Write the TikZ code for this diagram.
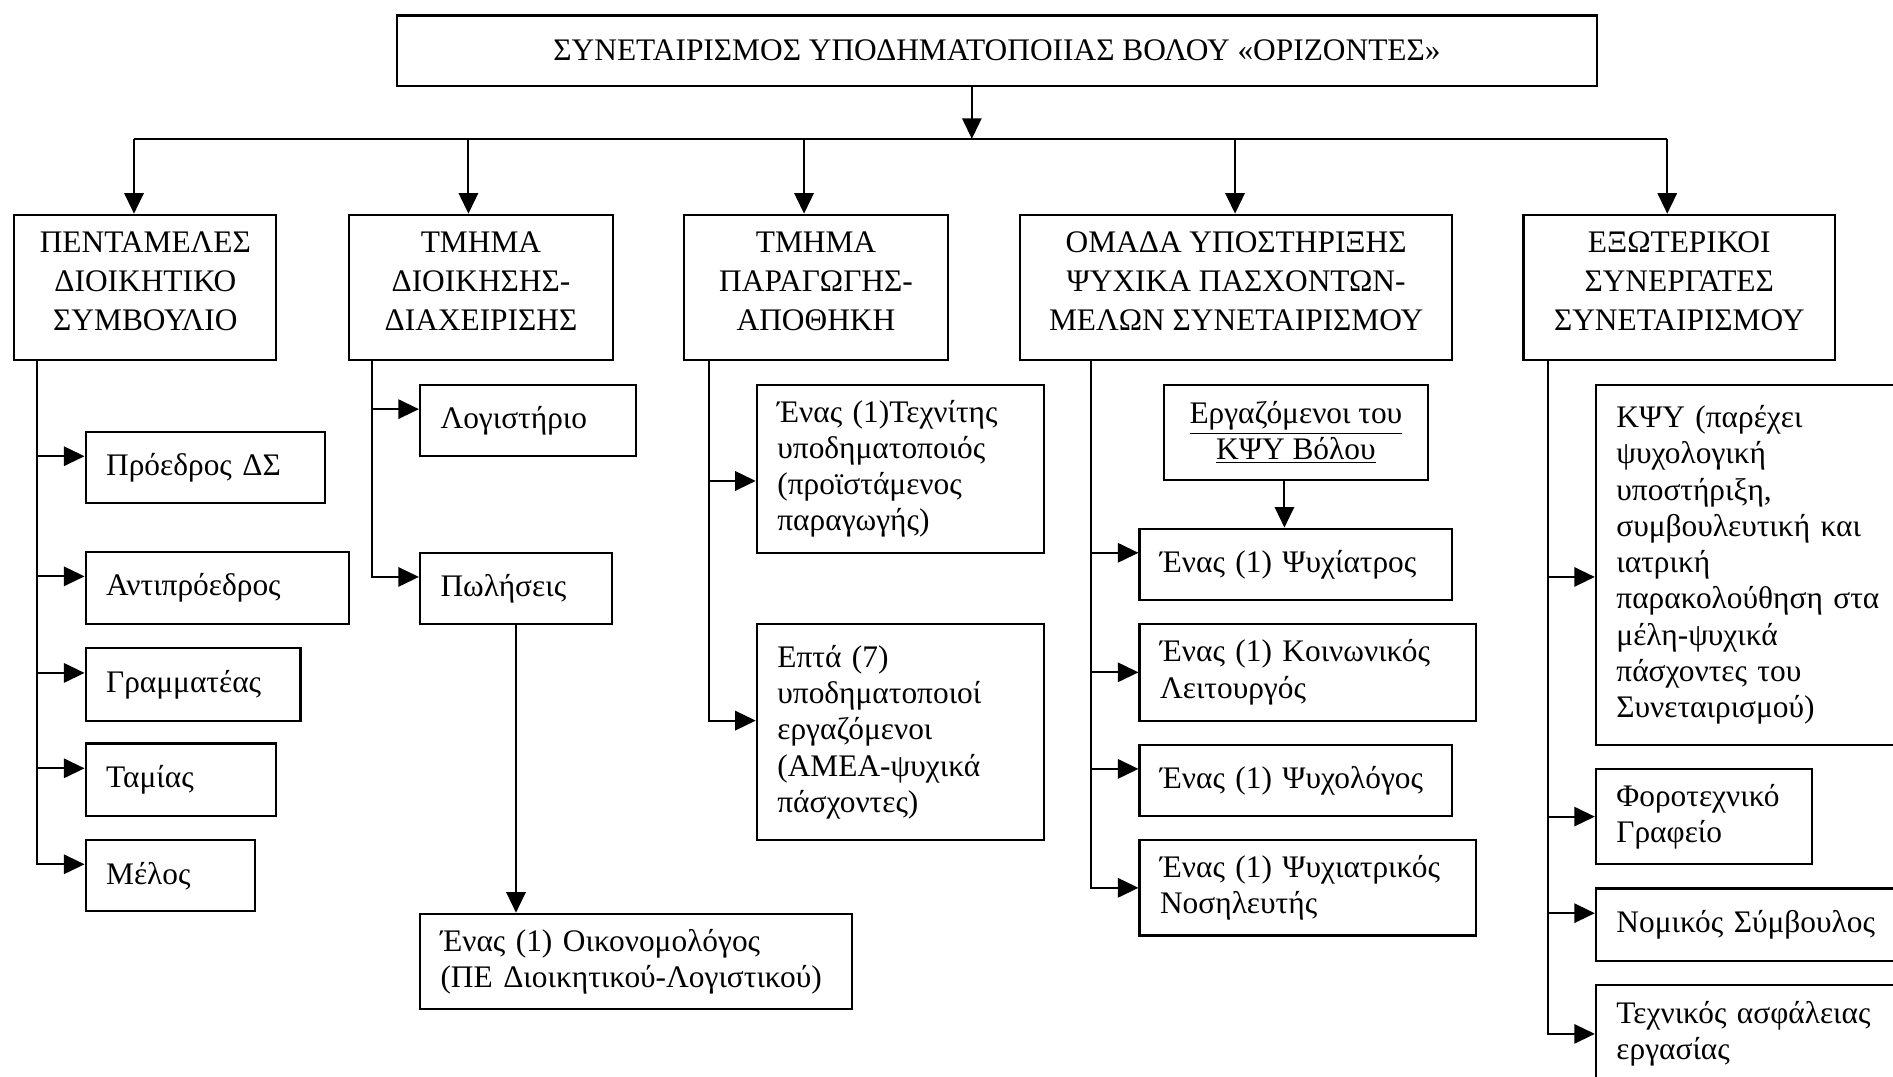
\documentclass[tikz,border=0pt]{standalone}
\usepackage{fontspec}
\setmainfont{Liberation Serif}
\usetikzlibrary{arrows.meta}
\begin{document}
\begin{tikzpicture}[x=0.5pt,y=-0.5pt,
  bx/.style={draw, line width=0.9pt, anchor=north west, inner ysep=0pt},
  cbox/.style={bx, align=center, inner xsep=0pt, font=\fontsize{13}{16}\selectfont},
  lbox/.style={bx, align=left, inner xsep=8.5pt, font=\fontsize{13}{15}\selectfont},
  ln/.style={line width=0.8pt},
  arr/.style={ln, -{Triangle[length=8.5pt,width=8pt]}},
  up/.style={yshift=4.75pt},
  dn/.style={yshift=-5pt}]
\useasboundingbox (0,0) rectangle (1568,892);
\clip (0,0) rectangle (1568,892);

% top
\node[cbox, minimum width=497pt, minimum height=29pt] (top) at (328,12)
  {ΣΥΝΕΤΑΙΡΙΣΜΟΣ ΥΠΟΔΗΜΑΤΟΠΟΙΙΑΣ ΒΟΛΟΥ «ΟΡΙΖΟΝΤΕΣ»};

% level boxes
\node[cbox, minimum width=108.5pt, minimum height=60pt] (L1) at (11,177)
  {ΠΕΝΤΑΜΕΛΕΣ\\ΔΙΟΙΚΗΤΙΚΟ\\ΣΥΜΒΟΥΛΙΟ\\[-11pt]};
\node[cbox, minimum width=109.5pt, minimum height=60pt] (L2) at (288,177)
  {ΤΜΗΜΑ\\ΔΙΟΙΚΗΣΗΣ-\\ΔΙΑΧΕΙΡΙΣΗΣ\\[-11pt]};
\node[cbox, minimum width=109pt, minimum height=60pt] (L3) at (566,177)
  {ΤΜΗΜΑ\\ΠΑΡΑΓΩΓΗΣ-\\ΑΠΟΘΗΚΗ\\[-11pt]};
\node[cbox, minimum width=179pt, minimum height=60pt] (L4) at (844,177)
  {ΟΜΑΔΑ ΥΠΟΣΤΗΡΙΞΗΣ\\ΨΥΧΙΚΑ ΠΑΣΧΟΝΤΩΝ-\\ΜΕΛΩΝ ΣΥΝΕΤΑΙΡΙΣΜΟΥ\\[-11pt]};
\node[cbox, minimum width=129pt, minimum height=60pt] (L5) at (1261,177)
  {ΕΞΩΤΕΡΙΚΟΙ\\ΣΥΝΕΡΓΑΤΕΣ\\ΣΥΝΕΤΑΙΡΙΣΜΟΥ\\[-11pt]};

% bus
\coordinate (b0) at (805,115);
\coordinate (b1) at (111,115);
\coordinate (b2) at (388,115);
\coordinate (b3) at (666,115);
\coordinate (b4) at (1023,115);
\coordinate (b5) at (1381,115);
\draw[arr] (top.south -| b0) -- (b0);
\draw[ln] (b1) -- (b5);
\foreach \i in {1,...,5} \draw[arr] (b\i) -- (b\i |- L\i.north);

% trunks
\coordinate (c1) at (31,0);
\coordinate (c2) at (308,0);
\coordinate (c3) at (587,0);
\coordinate (c4) at (904,0);
\coordinate (c5) at (1282,0);

% column 1
\node[lbox, text width=82pt, minimum height=29.5pt] (p1) at (70,357) {Πρόεδρος ΔΣ};
\node[lbox, text width=92pt, minimum height=30pt] (p2) at (70,456) {Αντιπρόεδρος};
\node[lbox, text width=72pt, minimum height=30pt] (p3) at (70,536) {Γραμματέας};
\node[lbox, text width=62pt, minimum height=30pt] (p4) at (70,615) {Ταμίας};
\node[lbox, text width=53pt, minimum height=29.5pt] (p5) at (70,695) {Μέλος};
\foreach \n in {p1,p2,p3,p4,p5} \draw[arr] (L1.south -| c1) |- ([up]\n.west);

% column 2
\node[lbox, text width=72.5pt, minimum height=29.5pt] (d1) at (347,318) {Λογιστήριο};
\node[lbox, text width=62.5pt, minimum height=29.5pt] (d2) at (347,457) {Πωλήσεις};
\node[lbox, text width=162pt, minimum height=39.5pt] (d3) at (347,756)
  {Ένας (1) Οικονομολόγος\\(ΠΕ Διοικητικού-Λογιστικού)};
\foreach \n in {d1,d2} \draw[arr] (L2.south -| c2) |- ([up]\n.west);
\draw[arr] (d2.south) -- (d2.south |- d3.north);

% column 3
\node[lbox, text width=102pt, minimum height=69.5pt] (r1) at (626,318)
  {Ένας (1)Τεχνίτης\\υποδηματοποιός\\(προϊστάμενος\\παραγωγής)};
\node[lbox, text width=102pt, minimum height=89.5pt] (r2) at (626,516)
  {Επτά (7)\\υποδηματοποιοί\\εργαζόμενοι\\(ΑΜΕΑ-ψυχικά\\πάσχοντες)};
\draw[arr] (L3.south -| c3) |- ([dn]r1.west);
\draw[arr] (L3.south -| c3) |- ([up]r2.west);

% column 4
\node[cbox, font=\fontsize{13}{15}\selectfont, minimum width=109.5pt, minimum height=39.5pt] (s0) at (963,318)
  {\underline{Εργαζόμενοι του}\\\underline{ΚΨΥ Βόλου}};
\node[lbox, text width=112.5pt, minimum height=29.5pt] (s1) at (943,437) {Ένας (1) Ψυχίατρος};
\node[lbox, text width=122.5pt, minimum height=40pt] (s2) at (943,516) {Ένας (1) Κοινωνικός\\Λειτουργός};
\node[lbox, text width=112.5pt, minimum height=29.5pt] (s3) at (943,616) {Ένας (1) Ψυχολόγος};
\node[lbox, text width=122.5pt, minimum height=39.5pt] (s4) at (943,695) {Ένας (1) Ψυχιατρικός\\Νοσηλευτής};
\draw[arr] ([xshift=-4.75pt]s0.south) -- ([xshift=-4.75pt]s0.south |- s1.north);
\draw[arr] (L4.south -| c4) |- ([up]s1.west);
\draw[arr] (L4.south -| c4) |- (s2.west);
\draw[arr] (L4.south -| c4) |- ([up]s3.west);
\draw[arr] (L4.south -| c4) |- (s4.west);

% column 5
\node[lbox, text width=118pt, minimum height=149pt] (e1) at (1321,318)
  {ΚΨΥ (παρέχει\\ψυχολογική\\υποστήριξη,\\συμβουλευτική και\\ιατρική\\παρακολούθηση στα\\μέλη-ψυχικά\\πάσχοντες του\\Συνεταιρισμού)};
\node[lbox, text width=72.5pt, minimum height=39.5pt] (e2) at (1321,636) {Φοροτεχνικό\\Γραφείο};
\node[lbox, text width=118pt, minimum height=30pt] (e3) at (1321,735) {Νομικός Σύμβουλος};
\node[lbox, text width=118pt, minimum height=40.5pt] (e4) at (1321,815) {Τεχνικός ασφάλειας\\εργασίας};
\draw[arr] (L5.south -| c5) |- ([dn]e1.west);
\draw[arr] (L5.south -| c5) |- (e2.west);
\draw[arr] (L5.south -| c5) |- ([up]e3.west);
\draw[arr] (L5.south -| c5) |- (e4.west);
\end{tikzpicture}
\end{document}
